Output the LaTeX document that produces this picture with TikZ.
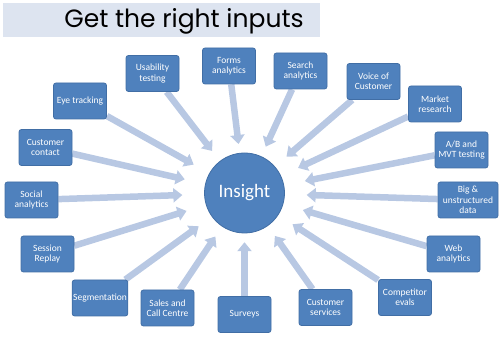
\documentclass[tikz,border=0pt]{standalone}
\usepackage{fontspec}
\setmainfont{Carlito}
\newfontfamily\titlefont{Poppins}
\usetikzlibrary{arrows.meta,shapes.geometric,backgrounds}
\definecolor{boxblue}{RGB}{79,129,189}
\definecolor{boxedge}{RGB}{65,110,165}
\definecolor{arrowcol}{RGB}{184,200,227}
\definecolor{bandcol}{RGB}{221,228,240}
\tikzset{
  inbox/.style={draw=boxedge, line width=0.8pt, fill=boxblue, rounded corners=2.5pt,
    minimum width=53pt, minimum height=36pt, inner sep=1pt, align=center,
    text=white, font=\fontsize{9.5}{10.5}\selectfont},
  feed/.style={draw=arrowcol, line width=6.5pt,
    -{Triangle[width=14pt,length=9pt]}, arrowcol}
}
\begin{document}
\begin{tikzpicture}[x=1pt,y=-1pt]
\useasboundingbox (0,0) rectangle (504,344);
\fill[bandcol] (3,3) rectangle (320,37);
\node[font=\titlefont\fontsize{25}{25}\selectfont, inner sep=0pt] (title) at (184,21) {Get the right inputs};

\node[circle, fill=boxblue, draw=boxedge, line width=0.8pt, minimum size=80pt, inner sep=0pt,
  text=white, font=\fontsize{19}{19}\selectfont] (insight) at (244.5,193) {Insight};
\node[ellipse, minimum width=124pt, minimum height=98pt, inner sep=0pt] (target) at (244.5,193) {};

\node[inbox] (usab) at (152.5,73.5) {Usability\\testing};
\node[inbox] (forms) at (229,66) {Forms\\analytics};
\node[inbox] (search) at (300.5,71) {Search\\analytics};
\node[inbox] (voice) at (373.5,81.5) {Voice of\\Customer};
\node[inbox] (market) at (435,104) {Market\\research};
\node[inbox] (ab) at (461.5,150) {A/B and\\MVT testing};
\node[inbox, minimum width=60pt] (big) at (468,200) {Big \&\\unstructured\\data};
\node[inbox] (web) at (453.5,254) {Web\\analytics};
\node[inbox] (comp) at (405,297.5) {Competitor\\evals};
\node[inbox] (custserv) at (325.5,307.5) {Customer\\services};
\node[inbox] (surveys) at (244.5,314.5) {Surveys};
\node[inbox] (sales) at (167.5,308) {Sales and\\Call Centre};
\node[inbox] (seg) at (100,298) {Segmentation};
\node[inbox] (session) at (47.5,254) {Session\\Replay};
\node[inbox] (social) at (31.5,200) {Social\\analytics};
\node[inbox] (contact) at (45.5,147.5) {Customer\\contact};
\node[inbox] (eye) at (80,101) {Eye tracking};

\begin{scope}[on background layer]
\foreach \s in {usab,forms,search,voice,market,ab,big,web,comp,custserv,surveys,sales,seg,session,social,contact,eye}
  \draw[feed] (\s) -- (target);
\end{scope}
\end{tikzpicture}
\end{document}
